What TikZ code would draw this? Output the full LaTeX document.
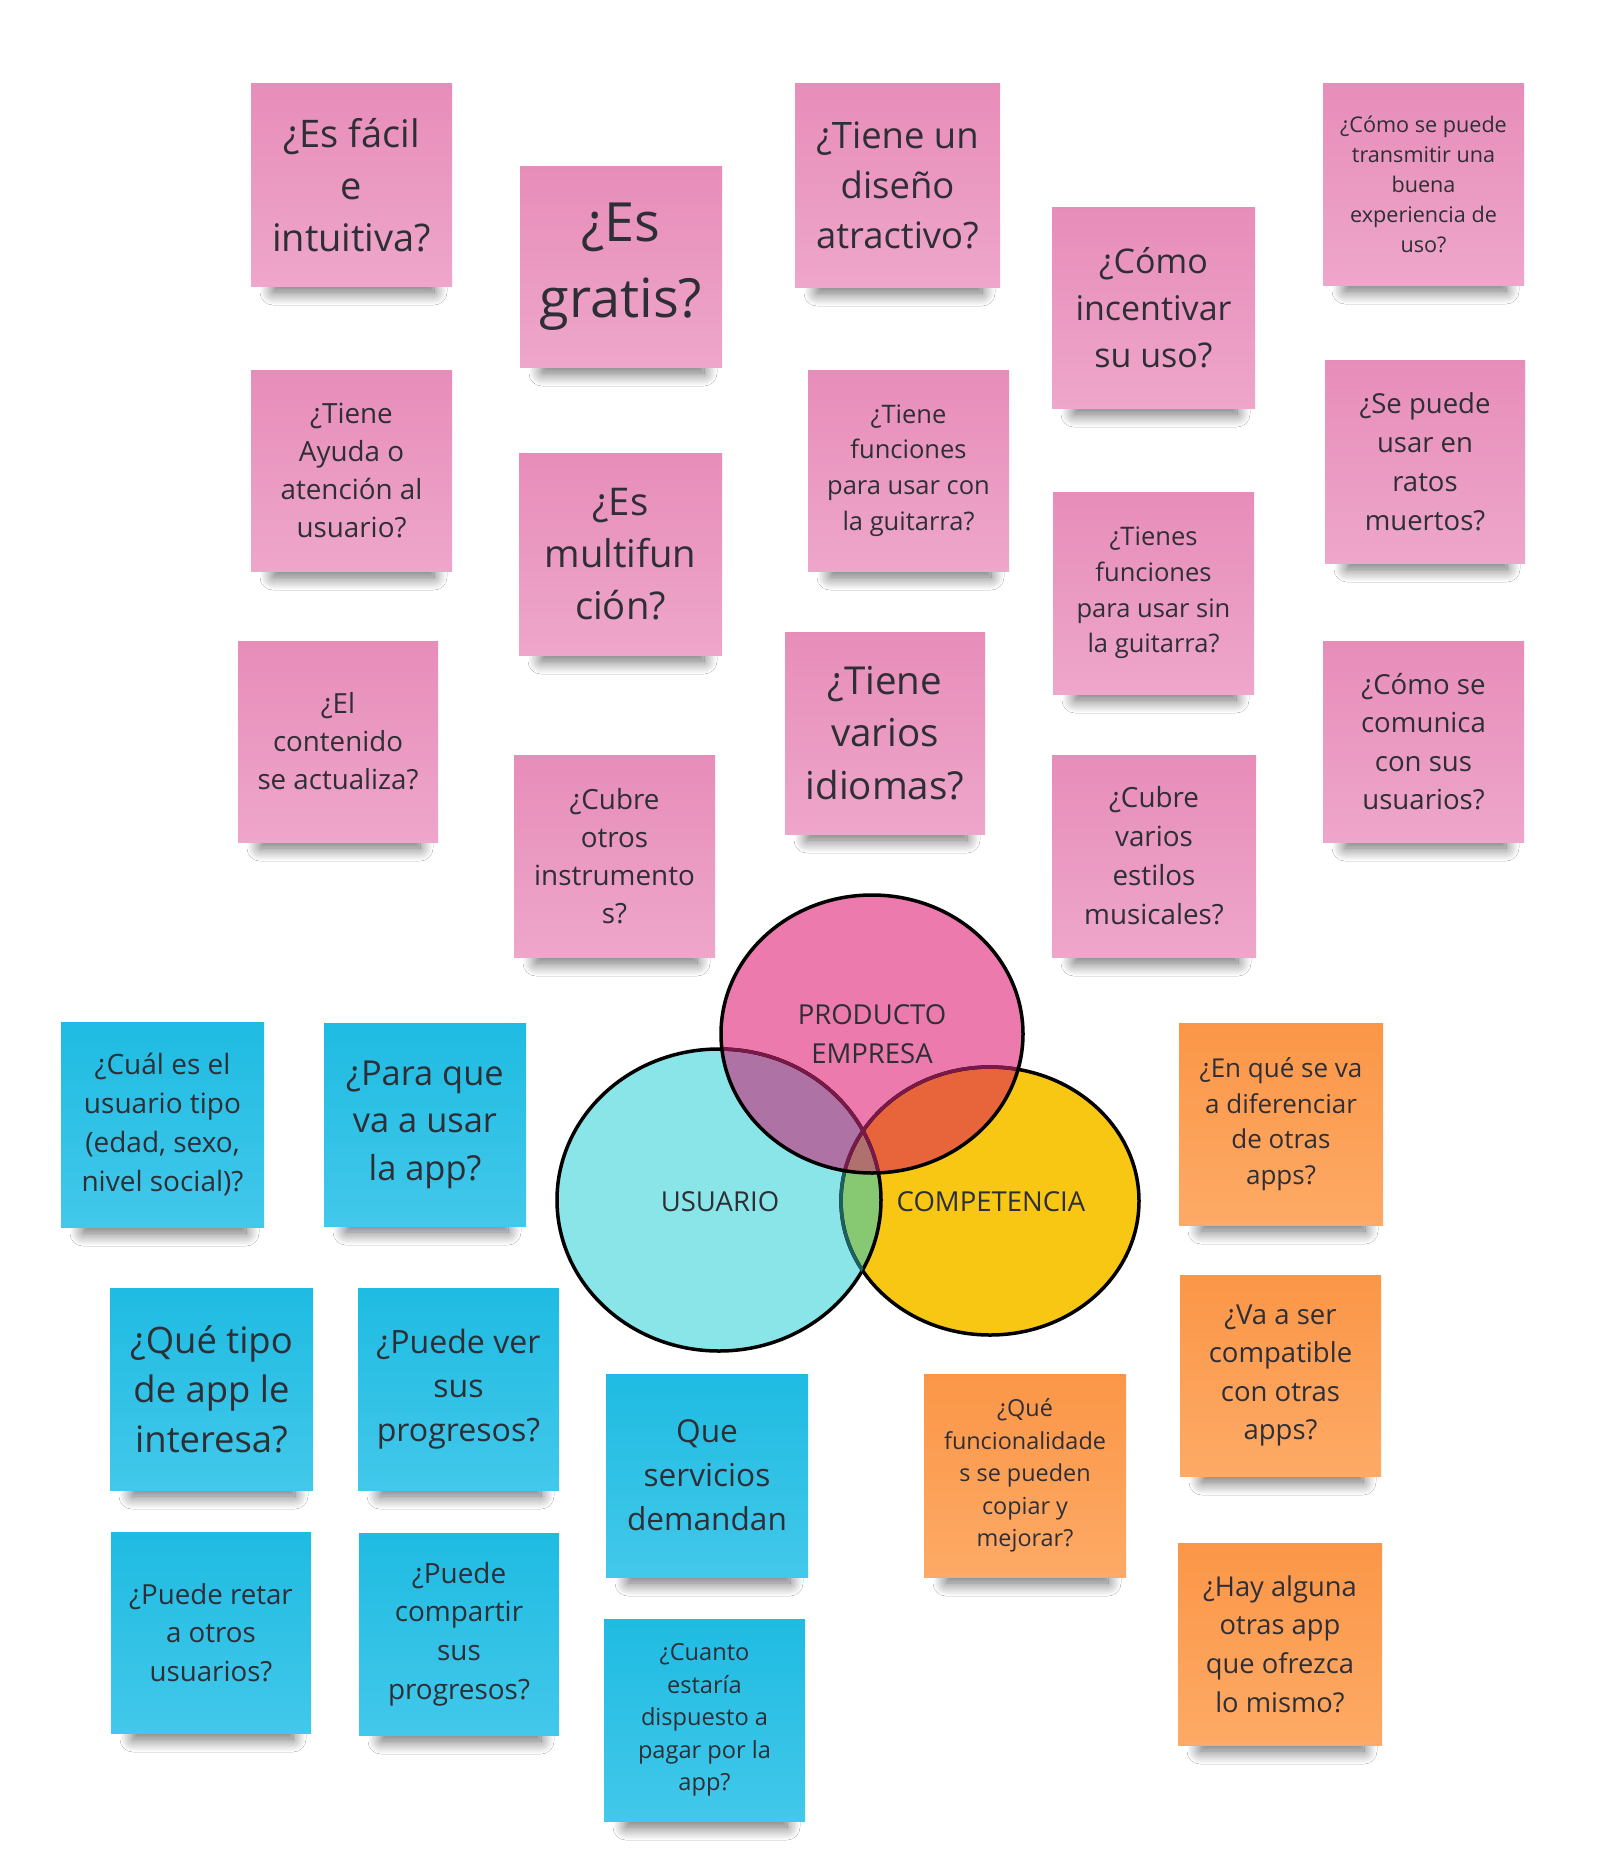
\documentclass[tikz,border=0pt]{standalone}
\usepackage{fontspec}
\setmainfont{Open Sans}
\usetikzlibrary{shadows.blur}
\definecolor{txt}{HTML}{2E2E36}
\definecolor{pinkA}{HTML}{E78DB9}
\definecolor{pinkB}{HTML}{EEA6CA}
\definecolor{blueA}{HTML}{1FBBE2}
\definecolor{blueB}{HTML}{42C8EA}
\definecolor{orangeA}{HTML}{FB9647}
\definecolor{orangeB}{HTML}{FDAA66}
\definecolor{vpink}{HTML}{EC7AAD}
\definecolor{vcyan}{HTML}{8AE5E8}
\definecolor{vyellow}{HTML}{F8C713}
\definecolor{vpc}{HTML}{AF72A4}
\definecolor{vpy}{HTML}{E8643A}
\definecolor{vcy}{HTML}{87C873}
\definecolor{vpcy}{HTML}{B0706E}
\definecolor{magdark}{HTML}{7A1848}
\definecolor{tealdark}{HTML}{1E5F5F}
\tikzset{
  stickynote/.style={rectangle, inner sep=0pt, align=center, text=txt},
  noteshadow/.style={blur shadow={shadow xshift=0pt, shadow yshift=0pt,
      shadow opacity=60, shadow blur radius=13pt, shadow blur steps=18}},
  pinknote/.style={top color=pinkA, bottom color=pinkB},
  bluenote/.style={top color=blueA, bottom color=blueB},
  orangenote/.style={top color=orangeA, bottom color=orangeB},
  vline/.style={line width=3.5pt},
  vlabel/.style={align=center, text=txt, inner sep=0pt, font=\fontsize{27.5}{38.5}\selectfont},
  pinkE/.style={insert path={(872,1034) ellipse [x radius=151, y radius=139]}},
  cyanE/.style={insert path={(719,1200) ellipse [x radius=162, y radius=151]}},
  yellowE/.style={insert path={(990,1201) ellipse [x radius=149, y radius=134]}},
}
\newcommand\stickynote[9]{%
  \path[noteshadow] ({#3+22},{#6-26}) rectangle ({#5-18},{#6+6});%
  \node[stickynote, #2, minimum width={#5-#3}, minimum height={#6-#4},
    font=\fontsize{#7}{#8}\selectfont] (#1) at ({(#3+#5)/2},{(#4+#6)/2}) {#9};%
}
\begin{document}
\begin{tikzpicture}[x=1pt, y=-1pt]
\fill[white] (0,0) rectangle (1600,1849);
\useasboundingbox (0,0) rectangle (1600,1849);

% pink notes
\stickynote{p1}{pinknote}{251}{84}{452}{286}{38}{52}{¿Es fácil\\e\\intuitiva?}
\stickynote{p2}{pinknote}{520}{166}{722}{367}{54}{76}{¿Es\\gratis?}
\stickynote{p3}{pinknote}{251}{370}{452}{571}{27.8}{38}{¿Tiene\\Ayuda o\\atención al\\usuario?}
\stickynote{p4}{pinknote}{519}{453}{722}{655}{38.2}{52}{¿Es\\multifun\\ción?}
\stickynote{p5}{pinknote}{238}{641}{438}{842}{27.7}{38}{¿El\\contenido\\se actualiza?}
\stickynote{p6}{pinknote}{514}{755}{715}{957}{27.8}{38}{¿Cubre\\otros\\instrumento\\s?}
\stickynote{p7}{pinknote}{795}{84}{1000}{287}{36.4}{50}{¿Tiene un\\diseño\\atractivo?}
\stickynote{p8}{pinknote}{808}{370}{1009}{571}{25.5}{35.7}{¿Tiene\\funciones\\para usar con\\la guitarra?}
\stickynote{p9}{pinknote}{785}{632}{985}{834}{38.5}{52.6}{¿Tiene\\varios\\idiomas?}
\stickynote{p10}{pinknote}{1052}{207}{1255}{408}{34}{47}{¿Cómo\\incentivar\\su uso?}
\stickynote{p11}{pinknote}{1053}{492}{1254}{694}{25.5}{35.7}{¿Tienes\\funciones\\para usar sin\\la guitarra?}
\stickynote{p12}{pinknote}{1052}{755}{1256}{957}{27.8}{39}{¿Cubre\\varios\\estilos\\musicales?}
\stickynote{p13}{pinknote}{1323}{84}{1524}{285}{21.6}{29.9}{¿Cómo se puede\\transmitir una\\buena\\experiencia de\\uso?}
\stickynote{p14}{pinknote}{1325}{360}{1525}{563}{27.5}{39}{¿Se puede\\usar en\\ratos\\muertos?}
\stickynote{p15}{pinknote}{1323}{641}{1524}{842}{27.6}{38.5}{¿Cómo se\\comunica\\con sus\\usuarios?}

% blue notes
\stickynote{b1}{bluenote}{61}{1022}{264}{1227}{28}{38.7}{¿Cuál es el\\usuario tipo\\(edad, sexo,\\nivel social)?}
\stickynote{b2}{bluenote}{324}{1023}{526}{1226}{34.4}{47.6}{¿Para que\\va a usar\\la app?}
\stickynote{b3}{bluenote}{110}{1288}{313}{1490}{36.4}{49.6}{¿Qué tipo\\de app le\\interesa?}
\stickynote{b4}{bluenote}{358}{1288}{559}{1490}{32.1}{44}{¿Puede ver\\sus\\progresos?}
\stickynote{b5}{bluenote}{111}{1532}{311}{1733}{27.7}{38.2}{¿Puede retar\\a otros\\usuarios?}
\stickynote{b6}{bluenote}{359}{1533}{559}{1735}{27.9}{38.8}{¿Puede\\compartir\\sus\\progresos?}
\stickynote{b7}{bluenote}{606}{1374}{808}{1577}{31.6}{44}{Que\\servicios\\demandan}
\stickynote{b8}{bluenote}{604}{1619}{805}{1821}{23.6}{32.5}{¿Cuanto\\estaría\\dispuesto a\\pagar por la\\app?}

% orange notes
\stickynote{o1}{orangenote}{1179}{1023}{1383}{1225}{26}{35.5}{¿En qué se va\\a diferenciar\\de otras\\apps?}
\stickynote{o2}{orangenote}{1180}{1275}{1381}{1476}{27.5}{38.6}{¿Va a ser\\compatible\\con otras\\apps?}
\stickynote{o3}{orangenote}{1178}{1543}{1382}{1745}{27.3}{38.6}{¿Hay alguna\\otras app\\que ofrezca\\lo mismo?}
\stickynote{o4}{orangenote}{924}{1374}{1126}{1577}{23.4}{32.4}{¿Qué\\funcionalidade\\s se pueden\\copiar y\\mejorar?}

% Venn diagram fills
\fill[vyellow][yellowE];
\fill[vcyan][cyanE];
\fill[vpink][pinkE];
\begin{scope}
  \clip[pinkE];
  \fill[vpc][cyanE];
  \fill[vpy][yellowE];
\end{scope}
\begin{scope}
  \clip[cyanE];
  \fill[vcy][yellowE];
\end{scope}
\begin{scope}
  \clip[pinkE];
  \clip[cyanE];
  \fill[vpcy][yellowE];
\end{scope}
% outlines
\draw[vline][yellowE];
\draw[vline][cyanE];
\begin{scope}
  \clip[cyanE];
  \draw[vline, tealdark][yellowE];
\end{scope}
\begin{scope}
  \clip[pinkE];
  \draw[vline, magdark][yellowE];
  \draw[vline, magdark][cyanE];
\end{scope}
\draw[vline][pinkE];

\node[vlabel] (producto) at (872,1034) {PRODUCTO\\EMPRESA};
\node[vlabel] (usuario) at (720,1202) {USUARIO};
\node[vlabel] (competencia) at (991,1202) {COMPETENCIA};
\end{tikzpicture}
\end{document}
